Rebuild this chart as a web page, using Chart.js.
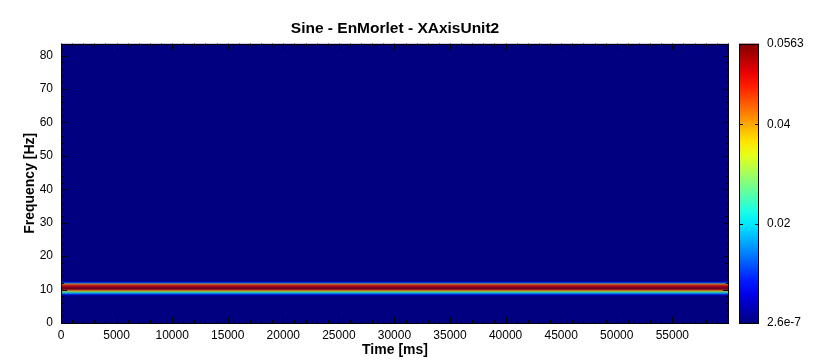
<!DOCTYPE html>
<html>
<head>
<meta charset="utf-8">
<script src="https://cdn.jsdelivr.net/npm/chart.js@4.4.0/dist/chart.umd.min.js"></script>
<style>
  html, body { margin: 0; padding: 0; background: #fff; }
  canvas { display: block; }
</style>
</head>
<body>
<canvas id="chart" width="815" height="360"></canvas>
<script>
// Datos: filas de frecuencia (Hz) y su potencia, constante en el tiempo
const freqRows  = [8.4, 8.7, 9.0, 9.3, 9.6, 9.9, 10.2, 10.5, 10.8, 11.1, 11.4, 11.7, 12.0, 12.3];
const powerRows = [0.004, 0.012, 0.020, 0.027, 0.036, 0.045, 0.055, 0.0563, 0.053, 0.050, 0.046, 0.040, 0.015, 0.004];
const baselinePower = 2.6e-7;
const maxPower = 0.0563;
const timeSpan = [0, 60100];
const freqSpan = [0, 83.6];

const timeTicks = [0, 5000, 10000, 15000, 20000, 25000, 30000, 35000, 40000, 45000, 50000, 55000];
const freqTicks = [0, 10, 20, 30, 40, 50, 60, 70, 80];
const colorbarTicks  = [2.6e-7, 0.02, 0.04, 0.0563];
const colorbarLabels = ['2.6e-7', '0.02', '0.04', '0.0563'];

const FONT = '"Liberation Sans", Arial, sans-serif';

// Mapa de colores tipo "jet"
function jet(t) {
  t = Math.max(0, Math.min(1, t));
  const c = v => Math.round(255 * Math.max(0, Math.min(1, v)));
  const r = c(1.5 - Math.abs(4 * t - 3));
  const g = c(1.5 - Math.abs(4 * t - 2));
  const b = c(1.5 - Math.abs(4 * t - 1));
  return `rgb(${r},${g},${b})`;
}
function powerColor(p) {
  return jet((p - baselinePower) / (maxPower - baselinePower));
}

// Dibuja las filas del mapa de calor con las escalas del gráfico
const heatmapPlugin = {
  id: 'heatmap',
  beforeDatasetsDraw(chart) {
    const { ctx, chartArea: a, scales: { x, y } } = chart;
    ctx.save();
    ctx.beginPath();
    ctx.rect(a.left, a.top, a.width, a.height);
    ctx.clip();
    const x0 = x.getPixelForValue(timeSpan[0]);
    const x1 = x.getPixelForValue(timeSpan[1]);
    ctx.fillStyle = powerColor(baselinePower);
    const yTop = y.getPixelForValue(freqSpan[1]);
    const yBot = y.getPixelForValue(freqSpan[0]);
    ctx.fillRect(x0, yTop, x1 - x0, yBot - yTop);
    const half = (freqRows[1] - freqRows[0]) / 2;
    chart.data.datasets[0].data.forEach(pt => {
      const top = y.getPixelForValue(pt.y + half);
      const bot = y.getPixelForValue(pt.y - half);
      ctx.fillStyle = powerColor(pt.v);
      ctx.fillRect(x0, top, x1 - x0, bot - top);
    });
    ctx.restore();
  }
};

// Marco y marcas interiores de los ejes
const frameTicksPlugin = {
  id: 'frameTicks',
  afterDatasetsDraw(chart) {
    const { ctx, chartArea: a, scales: { x, y } } = chart;
    ctx.save();
    ctx.strokeStyle = '#000';
    ctx.lineWidth = 1;
    ctx.beginPath();
    for (let t = 0; t <= timeSpan[1]; t += 1000) {
      const px = Math.round(x.getPixelForValue(t)) + 0.5;
      const len = t % 5000 === 0 ? 6 : 3;
      ctx.moveTo(px, a.bottom); ctx.lineTo(px, a.bottom - len);
      ctx.moveTo(px, a.top); ctx.lineTo(px, a.top + len);
    }
    for (let f = 0; f <= freqSpan[1]; f += 2) {
      const py = Math.round(y.getPixelForValue(f)) + 0.5;
      const len = f % 10 === 0 ? 6 : 3;
      ctx.moveTo(a.left, py); ctx.lineTo(a.left + len, py);
      ctx.moveTo(a.right, py); ctx.lineTo(a.right - len, py);
    }
    ctx.stroke();
    ctx.strokeRect(Math.round(a.left) + 0.5, Math.round(a.top) + 0.5,
                   Math.round(a.width) - 1, Math.round(a.height));
    ctx.restore();
  }
};

// Barra de colores a la derecha
const colorbarPlugin = {
  id: 'colorbar',
  afterDraw(chart) {
    const { ctx, chartArea: a, scales: { yc } } = chart;
    const left = Math.round(a.right) + 10;
    const w = 20;
    const top = yc.getPixelForValue(maxPower);
    const bot = yc.getPixelForValue(baselinePower);
    ctx.save();
    const grad = ctx.createLinearGradient(0, bot, 0, top);
    for (let i = 0; i <= 20; i++) {
      grad.addColorStop(i / 20, jet(i / 20));
    }
    ctx.fillStyle = grad;
    ctx.fillRect(left, top, w, bot - top);
    ctx.strokeStyle = '#000';
    ctx.lineWidth = 1;
    ctx.strokeRect(left + 0.5, Math.round(top) + 0.5, w - 1, Math.round(bot - top));
    ctx.beginPath();
    colorbarTicks.slice(1, -1).forEach(v => {
      const py = Math.round(yc.getPixelForValue(v)) + 0.5;
      ctx.moveTo(left, py); ctx.lineTo(left + 4, py);
      ctx.moveTo(left + w, py); ctx.lineTo(left + w - 4, py);
    });
    ctx.stroke();
    ctx.restore();
  }
};

function createSpectrogram() {
  const ctx = document.getElementById('chart').getContext('2d');
  new Chart(ctx, {
    type: 'scatter',
    data: {
      datasets: [{
        data: freqRows.map((f, i) => ({ x: timeSpan[0], y: f, v: powerRows[i] })),
        pointRadius: 0,
        showLine: false
      }]
    },
    options: {
      responsive: false,
      animation: false,
      devicePixelRatio: 1,
      events: [],
      layout: { padding: 0 },
      plugins: {
        legend: { display: false },
        tooltip: { enabled: false },
        title: {
          display: true,
          text: 'Sine - EnMorlet - XAxisUnit2',
          fullSize: false,
          color: '#000',
          font: { family: FONT, size: 15.5, weight: 'bold' },
          padding: { top: 19, bottom: 6 }
        }
      },
      scales: {
        x: {
          type: 'linear',
          min: timeSpan[0],
          max: timeSpan[1],
          afterBuildTicks: s => { s.ticks = timeTicks.map(v => ({ value: v })); },
          afterFit: s => { s.height = 37; },
          grid: { display: false, drawTicks: false },
          border: { display: false },
          ticks: {
            color: '#000', padding: 5, maxRotation: 0, autoSkip: false,
            font: { family: FONT, size: 12 },
            callback: v => String(v)
          },
          title: {
            display: true, text: 'Time [ms]', color: '#000',
            font: { family: FONT, size: 14, weight: 'bold' },
            padding: { top: 0, bottom: 1 }
          }
        },
        y: {
          type: 'linear',
          min: freqSpan[0],
          max: freqSpan[1],
          afterBuildTicks: s => { s.ticks = freqTicks.map(v => ({ value: v })); },
          afterFit: s => { s.width = 61; },
          grid: { display: false, drawTicks: false },
          border: { display: false },
          ticks: {
            color: '#000', padding: 8,
            font: { family: FONT, size: 12 },
            callback: v => String(v)
          },
          title: {
            display: true, text: 'Frequency [Hz]', color: '#000',
            font: { family: FONT, size: 14, weight: 'bold' },
            padding: { top: 22, bottom: 0 }
          }
        },
        yc: {
          type: 'linear',
          position: 'right',
          min: baselinePower,
          max: maxPower,
          afterBuildTicks: s => { s.ticks = colorbarTicks.map(v => ({ value: v })); },
          afterFit: s => { s.width = 86; },
          grid: { display: false, drawTicks: true, tickLength: 36 },
          border: { display: false },
          ticks: {
            color: '#000', padding: 2, autoSkip: false,
            font: { family: FONT, size: 12 },
            callback: (v, i) => colorbarLabels[i]
          }
        }
      }
    },
    plugins: [heatmapPlugin, frameTicksPlugin, colorbarPlugin]
  });
}

createSpectrogram();
</script>
</body>
</html>
